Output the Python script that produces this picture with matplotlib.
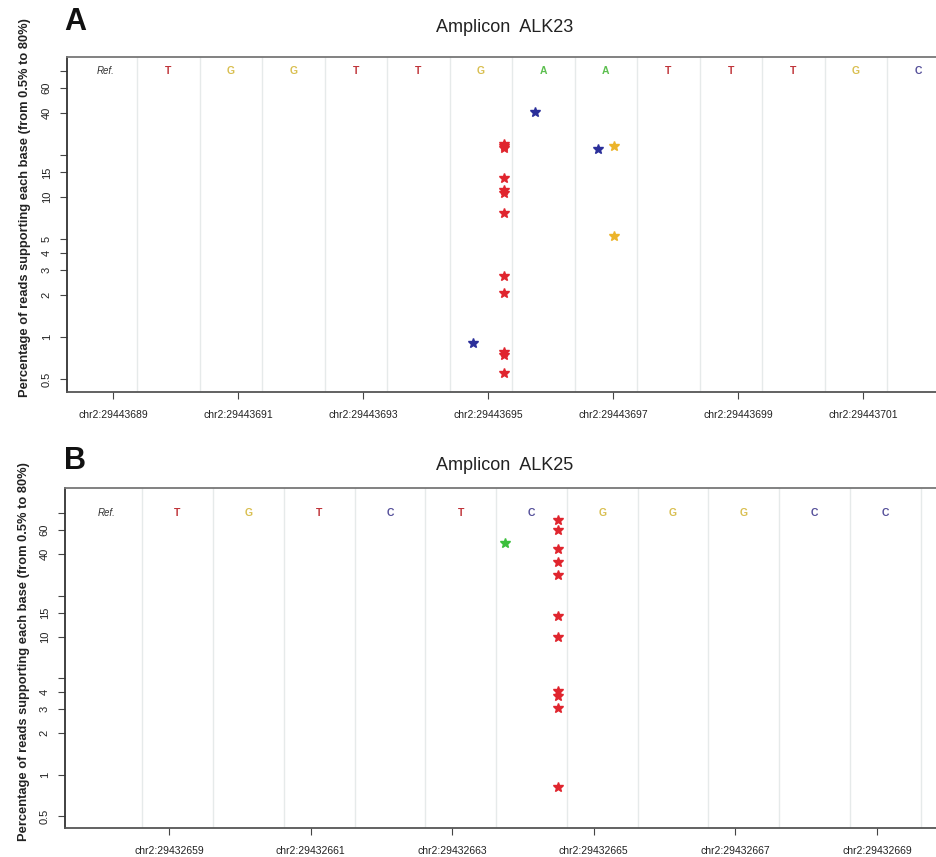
import numpy as np
import matplotlib
matplotlib.use('Agg')
from matplotlib import pyplot as plt

# Amplicon ALK23 : reference bases, one column per position (after "Ref.")
alk23_start = 29443689
alk23_ref = ['T', 'G', 'G', 'T', 'T', 'G', 'A', 'A', 'T', 'T', 'T', 'G', 'C']
alk23_ticks = [29443689, 29443691, 29443693, 29443695, 29443697, 29443699, 29443701]
# variants seen : column, alternative base, percentage of reads
alk23_col = [6, 6, 6, 6, 6, 6, 6, 6, 6, 6, 6, 6, 6, 7, 8, 8, 8]
alk23_alt = ['T', 'T', 'T', 'T', 'T', 'T', 'T', 'T', 'T', 'T', 'T', 'C', 'T', 'C', 'C', 'G', 'G']
alk23_pct = [24.0, 22.3, 13.7, 11.2, 10.6, 7.7, 2.73, 2.05, 0.78, 0.74, 0.55, 0.90, 23.0, 40.6, 22.0, 23.3, 5.3]

# Amplicon ALK25
alk25_start = 29432658
alk25_ref = ['T', 'G', 'T', 'C', 'T', 'C', 'G', 'G', 'G', 'C', 'C']
alk25_ticks = [29432659, 29432661, 29432663, 29432665, 29432667, 29432669]
alk25_col = [6, 6, 6, 6, 6, 6, 6, 6, 6, 6, 6, 6]
alk25_alt = ['T', 'T', 'T', 'T', 'T', 'T', 'T', 'T', 'T', 'T', 'T', 'A']
alk25_pct = [71.0, 60.0, 43.7, 35.0, 28.2, 14.2, 10.0, 4.06, 3.73, 3.07, 0.81, 48.6]

yticks = [0.5, 1, 2, 3, 4, 5, 10, 15, 20, 40, 60, 80]

base_col = {'A': '#5cbf4f', 'C': '#55509a', 'G': '#d9bf50', 'T': '#c0343a'}
star_col = {'A': '#3cbf3c', 'C': '#2b2f9a', 'G': '#ecb42a', 'T': '#e0252e'}
slot = {'A': -0.375, 'C': -0.125, 'G': 0.125, 'T': 0.375}

font = ['Liberation Sans Narrow', 'Liberation Sans', 'DejaVu Sans']


def panel(ax, ref, cols, alts, pcts, ticks, start, tick_shift, ylim, xlim, ylabels, label_xy):
    ax.set_yscale('log')
    ax.set_ylim(*ylim)
    ax.set_xlim(*xlim)

    # column separators
    for i in range(len(ref) + 2):
        ax.axvline(i + 0.5, color='#e6eaea', lw=1, zorder=0)

    # reference bases on top row
    ax.text(0, 80, 'Ref.', ha='center', va='center', fontsize=7, color='#333333',
            style='italic', family=font)
    for i, b in enumerate(ref):
        ax.text(i + 1, 80, b, ha='center', va='center', fontsize=7.5, fontweight='bold',
                color=base_col[b], family=font)

    for c, a, p in zip(cols, alts, pcts):
        ax.plot(c + slot[a], p, '*', ms=7.5, color=star_col[a], mec=star_col[a], zorder=3)

    ax.set_xticks([t - start + tick_shift for t in ticks])
    ax.set_xticklabels(['chr2:%d' % t for t in ticks], fontsize=7.5, color='#222222', family=font)
    ax.set_yticks(yticks)
    ax.set_yticklabels(ylabels, fontsize=8, rotation=90, va='center', color='#222222', family=font)
    ax.minorticks_off()
    ax.tick_params(axis='both', length=5, width=0.8, color='#444444')
    ax.tick_params(axis='x', pad=8)
    ax.tick_params(axis='y', pad=6)
    ax.spines['right'].set_visible(False)
    ax.spines['left'].set_color('#333333')
    ax.spines['bottom'].set_color('#555555')
    ax.spines['top'].set_color('#777777')
    for s in ['left', 'bottom', 'top']:
        ax.spines[s].set_linewidth(1.3)
    ax.set_ylabel('Percentage of reads supporting each base (from 0.5% to 80%)',
                  fontsize=9.3, fontweight='bold', color='#222222', family=font)
    ax.yaxis.set_label_coords(*label_xy)


fig = plt.figure(figsize=(9.37, 8.57), dpi=100)

ax1 = fig.add_axes([67 / 937, (857 - 392) / 857, 890 / 937, 335 / 857])
panel(ax1, alk23_ref, alk23_col, alk23_alt, alk23_pct, alk23_ticks, alk23_start, 0.116,
      (0.405, 100), (-0.62, 13.62),
      ['0.5', '1', '2', '3', '4', '5', '10', '15', '', '40', '60', ''], (-0.04, 0.55))

ax2 = fig.add_axes([65 / 937, (857 - 828) / 857, 933 / 937, 340 / 857])
panel(ax2, alk25_ref, alk25_col, alk25_alt, alk25_pct, alk25_ticks, alk25_start, -0.12,
      (0.409, 121), (-0.59, 12.59),
      ['0.5', '1', '2', '3', '4', '', '10', '15', '', '40', '60', ''], (-0.037, 0.52))

fig.text(505 / 937, 1 - 27 / 857, 'Amplicon  ALK23', ha='center', va='center', fontsize=13,
         family=['Liberation Sans', 'DejaVu Sans'], color='#222222')
fig.text(505 / 937, 1 - 465 / 857, 'Amplicon  ALK25', ha='center', va='center', fontsize=13,
         family=['Liberation Sans', 'DejaVu Sans'], color='#222222')
fig.text(64 / 937, 1 - 22 / 857, 'A', ha='left', va='center', fontsize=22, fontweight='bold',
         family=['Liberation Sans', 'DejaVu Sans'], color='#111111')
fig.text(64 / 937, 1 - 461 / 857, 'B', ha='left', va='center', fontsize=22, fontweight='bold',
         family=['Liberation Sans', 'DejaVu Sans'], color='#111111')

fig.savefig('out.png', dpi=100)
